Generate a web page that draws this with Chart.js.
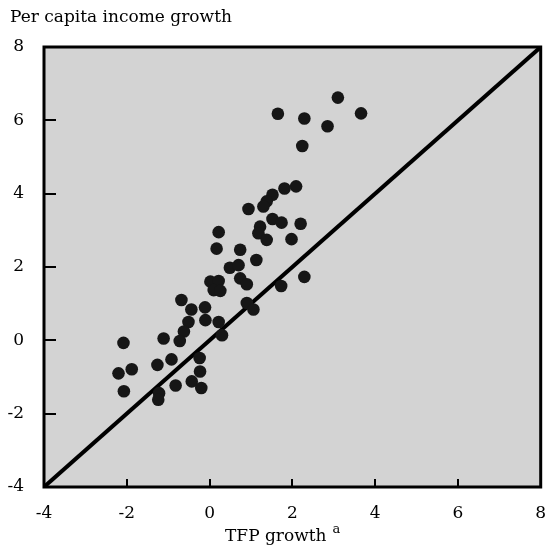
<!DOCTYPE html>
<html>
<head>
<meta charset="utf-8">
<script src="https://cdn.jsdelivr.net/npm/chart.js@4.4.1/dist/chart.umd.min.js"></script>
<style>
  html, body { margin: 0; padding: 0; background: #fff; }
</style>
</head>
<body>
<canvas id="tfpChart" width="547" height="553"></canvas>
<script>
// TFP growth (x) against per capita income growth (y), one entry per country
var tfpGrowth = [3.10, 1.65, 2.29, 3.66, 2.85, 2.24, 1.81, 2.09, 1.52, 1.38,
                 1.30, 0.94, 1.52, 1.74, 2.20, 1.22, 1.18, 1.38, 1.98, 0.22,
                 0.17, 0.74, 1.13, 0.49, 0.70, 0.74, 0.90, 2.29, 1.73, 0.02,
                 0.22, 0.10, 0.26, 0.90, 1.06, -0.68, -0.44, -0.11, -0.51, -0.10,
                 0.22, 0.30, -0.62, -0.72, -2.08, -1.11, -1.26, -0.92, -0.24, -0.23,
                 -2.20, -1.88, -2.07, -0.82, -0.43, -0.20, -1.22, -1.24];
var incomeGrowth = [6.62, 6.18, 6.05, 6.19, 5.84, 5.30, 4.14, 4.20, 3.97, 3.79,
                    3.65, 3.58, 3.31, 3.21, 3.18, 3.10, 2.92, 2.74, 2.76, 2.95,
                    2.50, 2.47, 2.19, 1.98, 2.05, 1.69, 1.53, 1.73, 1.48, 1.60,
                    1.62, 1.37, 1.35, 1.02, 0.84, 1.10, 0.84, 0.90, 0.50, 0.55,
                    0.50, 0.14, 0.24, -0.02, -0.07, 0.05, -0.67, -0.52, -0.48, -0.85,
                    -0.90, -0.79, -1.39, -1.23, -1.12, -1.30, -1.44, -1.62];
var axisTicks = [-4, -2, 0, 2, 4, 6, 8];
var diagonalEnds = [-4, 8];

var yTitle = 'Per capita income growth';
var xTitle = 'TFP growth';
var xTitleNote = 'a';

var serif = '"DejaVu Serif", serif';

var points = tfpGrowth.map(function(x, i) {
  return { x: x, y: incomeGrowth[i] };
});
var diagonal = diagonalEnds.map(function(v) {
  return { x: v, y: v };
});

var framePlugin = {
  id: 'frame',
  beforeDraw: function(chart) {
    var a = chart.chartArea, ctx = chart.ctx;
    ctx.save();
    ctx.fillStyle = '#d3d3d3';
    ctx.fillRect(a.left, a.top, a.right - a.left, a.bottom - a.top);
    ctx.restore();
  },
  afterDraw: function(chart) {
    var a = chart.chartArea, ctx = chart.ctx;
    var xs = chart.scales.x, ys = chart.scales.y;
    ctx.save();
    ctx.strokeStyle = '#000';
    ctx.lineWidth = 3;
    ctx.strokeRect(a.left, a.top, a.right - a.left, a.bottom - a.top);

    // short tick marks pointing into the plot
    ctx.lineWidth = 2;
    ctx.beginPath();
    axisTicks.slice(1, -1).forEach(function(v) {
      var px = Math.round(xs.getPixelForValue(v));
      ctx.moveTo(px, a.bottom);
      ctx.lineTo(px, a.bottom - 8);
      var py = Math.round(ys.getPixelForValue(v));
      ctx.moveTo(a.left, py);
      ctx.lineTo(a.left + 12, py);
    });
    ctx.stroke();

    ctx.fillStyle = '#000';
    ctx.textBaseline = 'alphabetic';
    ctx.textAlign = 'left';
    ctx.font = '17px ' + serif;
    ctx.fillText(yTitle, 10, 22);
    ctx.fillText(xTitle, 225, 541);
    var w = ctx.measureText(xTitle).width;
    ctx.font = '13px ' + serif;
    ctx.fillText(xTitleNote, 225 + w + 6, 533);
    ctx.restore();
  }
};

function setTicks(scale) {
  scale.ticks = axisTicks.map(function(v) { return { value: v }; });
}

new Chart(document.getElementById('tfpChart'), {
  type: 'scatter',
  data: {
    datasets: [{
      label: 'Countries',
      data: points,
      backgroundColor: '#161616',
      borderColor: '#161616',
      borderWidth: 0,
      pointRadius: 6.3,
      pointHoverRadius: 6.3
    }, {
      type: 'line',
      label: '45 degree line',
      data: diagonal,
      borderColor: '#000',
      borderWidth: 4,
      pointRadius: 0,
      fill: false
    }]
  },
  options: {
    responsive: false,
    animation: false,
    layout: { padding: { top: 47, right: 3, left: 0, bottom: 0 } },
    plugins: {
      legend: { display: false },
      tooltip: { enabled: false }
    },
    scales: {
      x: {
        type: 'linear',
        min: -4,
        max: 8,
        afterBuildTicks: setTicks,
        afterFit: function(s) { s.height = 66; s.paddingLeft = 0; s.paddingRight = 0; },
        grid: { display: false, drawTicks: false },
        border: { display: false },
        ticks: { color: '#000', padding: 16, font: { family: serif, size: 17 } }
      },
      y: {
        type: 'linear',
        min: -4,
        max: 8,
        afterBuildTicks: setTicks,
        afterFit: function(s) { s.width = 44; s.paddingTop = 0; s.paddingBottom = 0; },
        grid: { display: false, drawTicks: false },
        border: { display: false },
        ticks: { color: '#000', padding: 20, font: { family: serif, size: 17 } }
      }
    }
  },
  plugins: [framePlugin]
});
</script>
</body>
</html>
